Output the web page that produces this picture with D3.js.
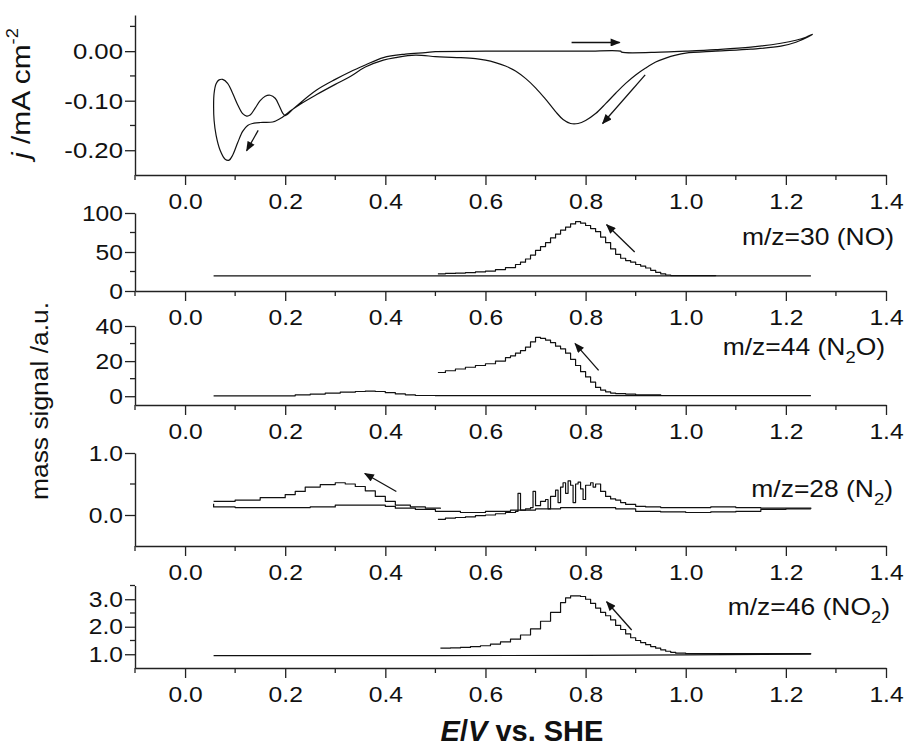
<!DOCTYPE html>
<html><head><meta charset="utf-8">
<script src="https://cdn.jsdelivr.net/npm/d3@7"></script>
<style>
body{margin:0;background:#fff;}
svg{display:block;font-family:"Liberation Sans",Arial,Helvetica,sans-serif;}
</style></head><body>
<svg id="chart" width="909" height="747"></svg>
<script>
// ---------------- data ----------------
const xTicks = [0.0,0.2,0.4,0.6,0.8,1.0,1.2,1.4];
const xMinorTicks = [-0.1,0.1,0.3,0.5,0.7,0.9,1.1,1.3];

// Cyclic voltammogram (scan order, starting at 0.5 V going positive)
const cvE = [0.50,0.60,0.70,0.80,0.87,0.872,0.95,1.00,1.06,1.13,1.19,1.22,1.24,1.253,
 1.245,1.22,1.19,1.13,1.06,1.00,0.98,0.96,0.94,0.92,0.90,0.88,0.86,0.84,0.82,0.80,0.785,0.77,0.755,0.74,0.72,0.70,0.68,0.66,0.64,0.62,0.60,0.58,0.55,0.52,0.50,
 0.46,0.42,0.396,0.36,0.33,0.30,0.262,0.23,0.21,0.20,0.19,0.175,0.15,0.135,0.125,0.115,0.105,0.095,0.088,0.080,0.070,0.062,0.058,0.057,0.058,0.062,0.068,0.075,0.085,0.095,0.105,0.115,0.123,0.130,0.140,0.150,0.160,0.170,0.180,0.188,0.195,0.200,
 0.22,0.262,0.30,0.329,0.36,0.396,0.44,0.48,0.50];
const cvJ = [-0.001,0.000,0.000,0.000,0.000,-0.002,-0.002,0.000,0.003,0.008,0.016,0.022,0.028,0.034,
 0.029,0.018,0.010,0.004,0.000,-0.004,-0.008,-0.014,-0.022,-0.034,-0.048,-0.065,-0.085,-0.106,-0.126,-0.140,-0.146,-0.146,-0.138,-0.122,-0.097,-0.074,-0.055,-0.040,-0.030,-0.023,-0.018,-0.015,-0.013,-0.012,-0.011,
 -0.008,-0.013,-0.018,-0.032,-0.051,-0.067,-0.088,-0.107,-0.121,-0.129,-0.136,-0.143,-0.144,-0.146,-0.150,-0.162,-0.185,-0.210,-0.220,-0.218,-0.200,-0.170,-0.140,-0.110,-0.085,-0.066,-0.058,-0.057,-0.065,-0.085,-0.108,-0.126,-0.131,-0.129,-0.115,-0.100,-0.091,-0.089,-0.095,-0.110,-0.125,-0.130,
 -0.113,-0.079,-0.057,-0.042,-0.028,-0.013,-0.006,-0.003,-0.001];
const cvYTicks = [-0.2,-0.1,0.0];
const cvYMinor = [-0.15,-0.05,0.05];
const cvArrows = [[0.772,0.0175,0.868,0.0175],[0.919,-0.048,0.834,-0.146],[0.146,-0.160,0.123,-0.201]];

// m/z = 30 (NO)
const noE = [0.505,0.52,0.54,0.56,0.58,0.60,0.62,0.64,0.66,0.67,0.68,0.69,0.70,0.71,0.72,0.73,0.74,0.75,0.76,0.77,0.78,0.79,0.80,0.81,0.82,0.83,0.84,0.85,0.86,0.87,0.88,0.89,0.90,0.91,0.92,0.93,0.94,0.95,0.96,0.97,1.06];
const noV = [22,22.5,23,23.5,24.5,25.5,27.5,30,34,37,41,46,52,57,62,68,73,78,82,86,89,87,84,80,76,69,62,54,47,42,39,37,34,32,29.5,26.5,24,22,20.5,19.8,19.5];
const noBaseE = [0.057,0.50,1.00,1.25];
const noBaseV = [19.3,19.3,19.3,19.3];
const noYTicks = [0,50,100];
const noYMinor = [25,75];
const noArrows = [[0.898,50,0.842,85]];

// m/z = 44 (N2O)
const n2oE = [0.505,0.52,0.54,0.56,0.58,0.60,0.62,0.64,0.65,0.66,0.67,0.68,0.69,0.70,0.71,0.72,0.73,0.74,0.75,0.76,0.77,0.78,0.79,0.80,0.81,0.82,0.83,0.84,0.85,0.86,0.88,0.90,0.95];
const n2oV = [13.5,14.5,15.5,16.5,17.5,18.5,20,22,23,24.5,26,28,31,33.5,33,32,30.5,28.5,27,24.5,21,17.5,14,11,8,5,3.5,2.5,1.8,1.5,1.2,0.8,0.6];
const n2oBaseE = [0.057,0.20,0.22,0.25,0.28,0.31,0.34,0.36,0.38,0.40,0.42,0.44,0.46,0.50,0.80,1.25];
const n2oBaseV = [0.2,0.2,0.8,1.2,1.8,2.3,2.7,2.9,2.7,2.0,1.3,0.8,0.4,0.3,0.3,0.3];
const n2oYTicks = [0,20,40];
const n2oYMinor = [10,30];
const n2oArrows = [[0.826,14.7,0.779,30]];

// m/z = 28 (N2)
const n2PeakE = [0.505,0.52,0.54,0.56,0.58,0.60,0.62,0.64,0.66,0.665,0.67,0.68,0.69,0.695,0.70,0.71,0.72,0.725,0.73,0.74,0.745,0.75,0.755,0.76,0.765,0.77,0.775,0.78,0.785,0.79,0.795,0.80,0.81,0.815,0.82,0.83,0.84,0.85,0.86,0.87,0.88,0.90,0.92,0.95,1.00,1.05,1.10,1.15,1.20,1.25];
const n2PeakV = [-0.07,-0.05,-0.04,-0.03,-0.01,0.00,0.02,0.04,0.06,0.35,0.08,0.10,0.12,0.38,0.15,0.22,0.25,0.10,0.30,0.40,0.20,0.45,0.52,0.35,0.55,0.48,0.20,0.50,0.53,0.42,0.25,0.48,0.52,0.45,0.50,0.38,0.30,0.26,0.24,0.20,0.17,0.14,0.13,0.12,0.12,0.13,0.12,0.11,0.11,0.10];
const n2RetE = [1.25,1.20,1.15,1.10,1.05,1.00,0.95,0.90,0.86,0.80,0.75,0.70,0.65,0.60,0.55,0.50,0.46,0.42,0.40,0.36,0.30,0.25,0.20,0.15,0.10,0.057];
const n2RetV = [0.10,0.09,0.06,0.05,0.04,0.05,0.06,0.10,0.12,0.12,0.10,0.08,0.06,0.04,0.06,0.09,0.11,0.14,0.16,0.16,0.13,0.12,0.12,0.12,0.13,0.18];
const n2HumpE = [0.057,0.10,0.15,0.20,0.22,0.24,0.27,0.30,0.32,0.34,0.36,0.38,0.40,0.42,0.45,0.48,0.51];
const n2HumpV = [0.22,0.24,0.28,0.33,0.38,0.45,0.49,0.52,0.50,0.46,0.39,0.30,0.22,0.16,0.13,0.11,0.10];
const n2YTicks = [0.0,1.0];
const n2YMinor = [0.5];
const n2Arrows = [[0.422,0.38,0.359,0.67]];

// m/z = 46 (NO2)
const no2E = [0.51,0.53,0.55,0.57,0.59,0.61,0.63,0.65,0.67,0.69,0.71,0.73,0.75,0.76,0.77,0.78,0.79,0.80,0.81,0.82,0.83,0.84,0.85,0.86,0.87,0.88,0.89,0.90,0.91,0.92,0.93,0.94,0.95,0.96,0.97,0.98,1.00,1.10,1.25];
const no2V = [1.22,1.23,1.25,1.28,1.31,1.37,1.45,1.55,1.70,1.92,2.20,2.52,2.88,3.05,3.12,3.12,3.10,3.00,2.85,2.68,2.52,2.40,2.25,2.05,1.90,1.74,1.60,1.50,1.42,1.35,1.28,1.22,1.16,1.11,1.07,1.04,1.02,1.02,1.03];
const no2BaseE = [0.057,0.50,0.80,1.00,1.25];
const no2BaseV = [0.95,0.95,0.96,0.98,1.00];
const no2YTicks = [1.0,2.0,3.0];
const no2YMinor = [1.5,2.5,3.5];
const no2Arrows = [[0.892,1.88,0.842,2.91]];

// ---------------- drawing ----------------
const svg = d3.select("#chart");
const INK = "#111";
const AX = "#222";
const K = 1.12; // horizontal text stretch

const x = d3.scaleLinear().domain([-0.1, 1.4]).range([135, 886]);
const zip = (a, b) => a.map((d, i) => [d, b[i]]);

const defs = svg.append("defs");
defs.append("marker").attr("id", "ah").attr("viewBox", "0 0 10 8")
  .attr("refX", 9).attr("refY", 4).attr("markerWidth", 11).attr("markerHeight", 8)
  .attr("markerUnits", "userSpaceOnUse").attr("orient", "auto")
  .append("path").attr("d", "M0,0L10,4L0,8z").attr("fill", INK);

const panels = [
  {top: 15, bottom: 175, domain: [-0.25, 0.073], major: cvYTicks, minor: cvYMinor,
   fmt: d => d.toFixed(2), yfs: 23,
   traces: [{e: cvE, v: cvJ, curve: d3.curveCatmullRom.alpha(0.5)}], arrows: cvArrows},
  {top: 213, bottom: 291, domain: [0, 100], major: noYTicks, minor: noYMinor,
   fmt: d => String(d), yfs: 22,
   traces: [{e: noBaseE, v: noBaseV, curve: d3.curveLinear}, {e: noE, v: noV, curve: d3.curveStepAfter}],
   arrows: noArrows, label: {x: 894, y: 245, parts: [["m/z=30 (NO)"]]}},
  {top: 326, bottom: 405, domain: [-5, 40], major: n2oYTicks, minor: n2oYMinor,
   fmt: d => String(d), yfs: 22,
   traces: [{e: n2oBaseE, v: n2oBaseV, curve: d3.curveStepAfter}, {e: n2oE, v: n2oV, curve: d3.curveStepAfter}],
   arrows: n2oArrows, label: {x: 885, y: 355, parts: [["m/z=44 (N"], ["2", "sub"], ["O)"]]}},
  {top: 453, bottom: 546, domain: [-0.5, 1.0], major: n2YTicks, minor: n2YMinor,
   fmt: d => d.toFixed(1), yfs: 22,
   traces: [{e: n2HumpE, v: n2HumpV, curve: d3.curveStepAfter}, {e: n2RetE, v: n2RetV, curve: d3.curveStepAfter},
            {e: n2PeakE, v: n2PeakV, curve: d3.curveStepAfter}],
   arrows: n2Arrows, label: {x: 893, y: 497, parts: [["m/z=28 (N"], ["2", "sub"], [")"]]}},
  {top: 585.5, bottom: 668, domain: [0.5, 3.5], major: no2YTicks, minor: no2YMinor,
   fmt: d => d.toFixed(1), yfs: 22,
   traces: [{e: no2BaseE, v: no2BaseV, curve: d3.curveLinear}, {e: no2E, v: no2V, curve: d3.curveStepAfter}],
   arrows: no2Arrows, label: {x: 890, y: 615, parts: [["m/z=46 (NO"], ["2", "sub"], [")"]]}}
];

panels.forEach(p => {
  const y = d3.scaleLinear().domain(p.domain).range([p.bottom, p.top]);

  // x axis
  const gx = svg.append("g").attr("transform", `translate(0,${p.bottom})`)
    .call(d3.axisBottom(x).tickValues(xTicks).tickFormat(d => d.toFixed(1))
      .tickSizeInner(10).tickSizeOuter(0).tickPadding(8))
    .attr("font-size", null).attr("font-family", null).attr("color", AX);
  gx.select(".domain").attr("stroke-width", 1.4);
  gx.selectAll(".tick line").attr("stroke-width", 1.3);
  gx.selectAll(".tick text").attr("font-size", 22).attr("fill", INK)
    .attr("transform", `scale(${K},1)`);
  gx.selectAll(".mnr").data(xMinorTicks).enter().append("line").attr("class", "mnr")
    .attr("x1", d => x(d)).attr("x2", d => x(d)).attr("y1", 0).attr("y2", 5)
    .attr("stroke", AX).attr("stroke-width", 1.3);

  // y axis
  const gy = svg.append("g").attr("transform", `translate(${x.range()[0]},0)`)
    .call(d3.axisLeft(y).tickValues(p.major).tickFormat(p.fmt)
      .tickSizeInner(10).tickSizeOuter(0).tickPadding(2))
    .attr("font-size", null).attr("font-family", null).attr("color", AX);
  gy.select(".domain").attr("stroke-width", 1.4);
  gy.selectAll(".tick line").attr("stroke-width", 1.3);
  gy.selectAll(".tick text").attr("font-size", p.yfs).attr("fill", INK)
    .attr("x", -12 / K).attr("transform", `scale(${K},1)`);
  gy.selectAll(".mnr").data(p.minor).enter().append("line").attr("class", "mnr")
    .attr("x1", 0).attr("x2", -5).attr("y1", d => y(d)).attr("y2", d => y(d))
    .attr("stroke", AX).attr("stroke-width", 1.3);

  // traces
  p.traces.forEach(t => {
    const line = d3.line().x(d => x(d[0])).y(d => y(d[1])).curve(t.curve);
    svg.append("path").datum(zip(t.e, t.v)).attr("d", line)
      .attr("fill", "none").attr("stroke", INK).attr("stroke-width", 1.2)
      .attr("stroke-linejoin", "round");
  });

  // arrows
  p.arrows.forEach(a => {
    svg.append("line").attr("x1", x(a[0])).attr("y1", y(a[1])).attr("x2", x(a[2])).attr("y2", y(a[3]))
      .attr("stroke", INK).attr("stroke-width", 1.3).attr("marker-end", "url(#ah)");
  });

  // label
  if (p.label) {
    const t = svg.append("text").attr("transform", `translate(${p.label.x},${p.label.y}) scale(1.15,1)`)
      .attr("text-anchor", "end").attr("font-size", 23).attr("fill", INK);
    p.label.parts.forEach(pt => {
      const s = t.append("tspan").text(pt[0]);
      if (pt[1] === "sub") s.attr("font-size", 16).attr("dy", 8);
      else if (t.selectAll("tspan").size() > 1) s.attr("dy", -8);
    });
  }
});

// axis titles
const jl = svg.append("text").attr("transform", "translate(30,159) rotate(-90) scale(1.15,1)")
  .attr("font-size", 26).attr("fill", INK);
jl.append("tspan").attr("font-style", "italic").text("j");
jl.append("tspan").text(" /mA cm");
jl.append("tspan").attr("font-size", 16).attr("dy", -12).text("-2");

svg.append("text").attr("transform", "translate(48,401) rotate(-90) scale(1.1,1)")
  .attr("text-anchor", "middle").attr("font-size", 24).attr("fill", INK)
  .text("mass signal /a.u.");

const xl = svg.append("text").attr("x", 522).attr("y", 741).attr("text-anchor", "middle")
  .attr("font-size", 29).attr("font-weight", "bold").attr("fill", INK);
xl.append("tspan").attr("font-style", "italic").text("E");
xl.append("tspan").text("/");
xl.append("tspan").attr("font-style", "italic").text("V");
xl.append("tspan").text(" vs. SHE");
</script>
</body></html>
